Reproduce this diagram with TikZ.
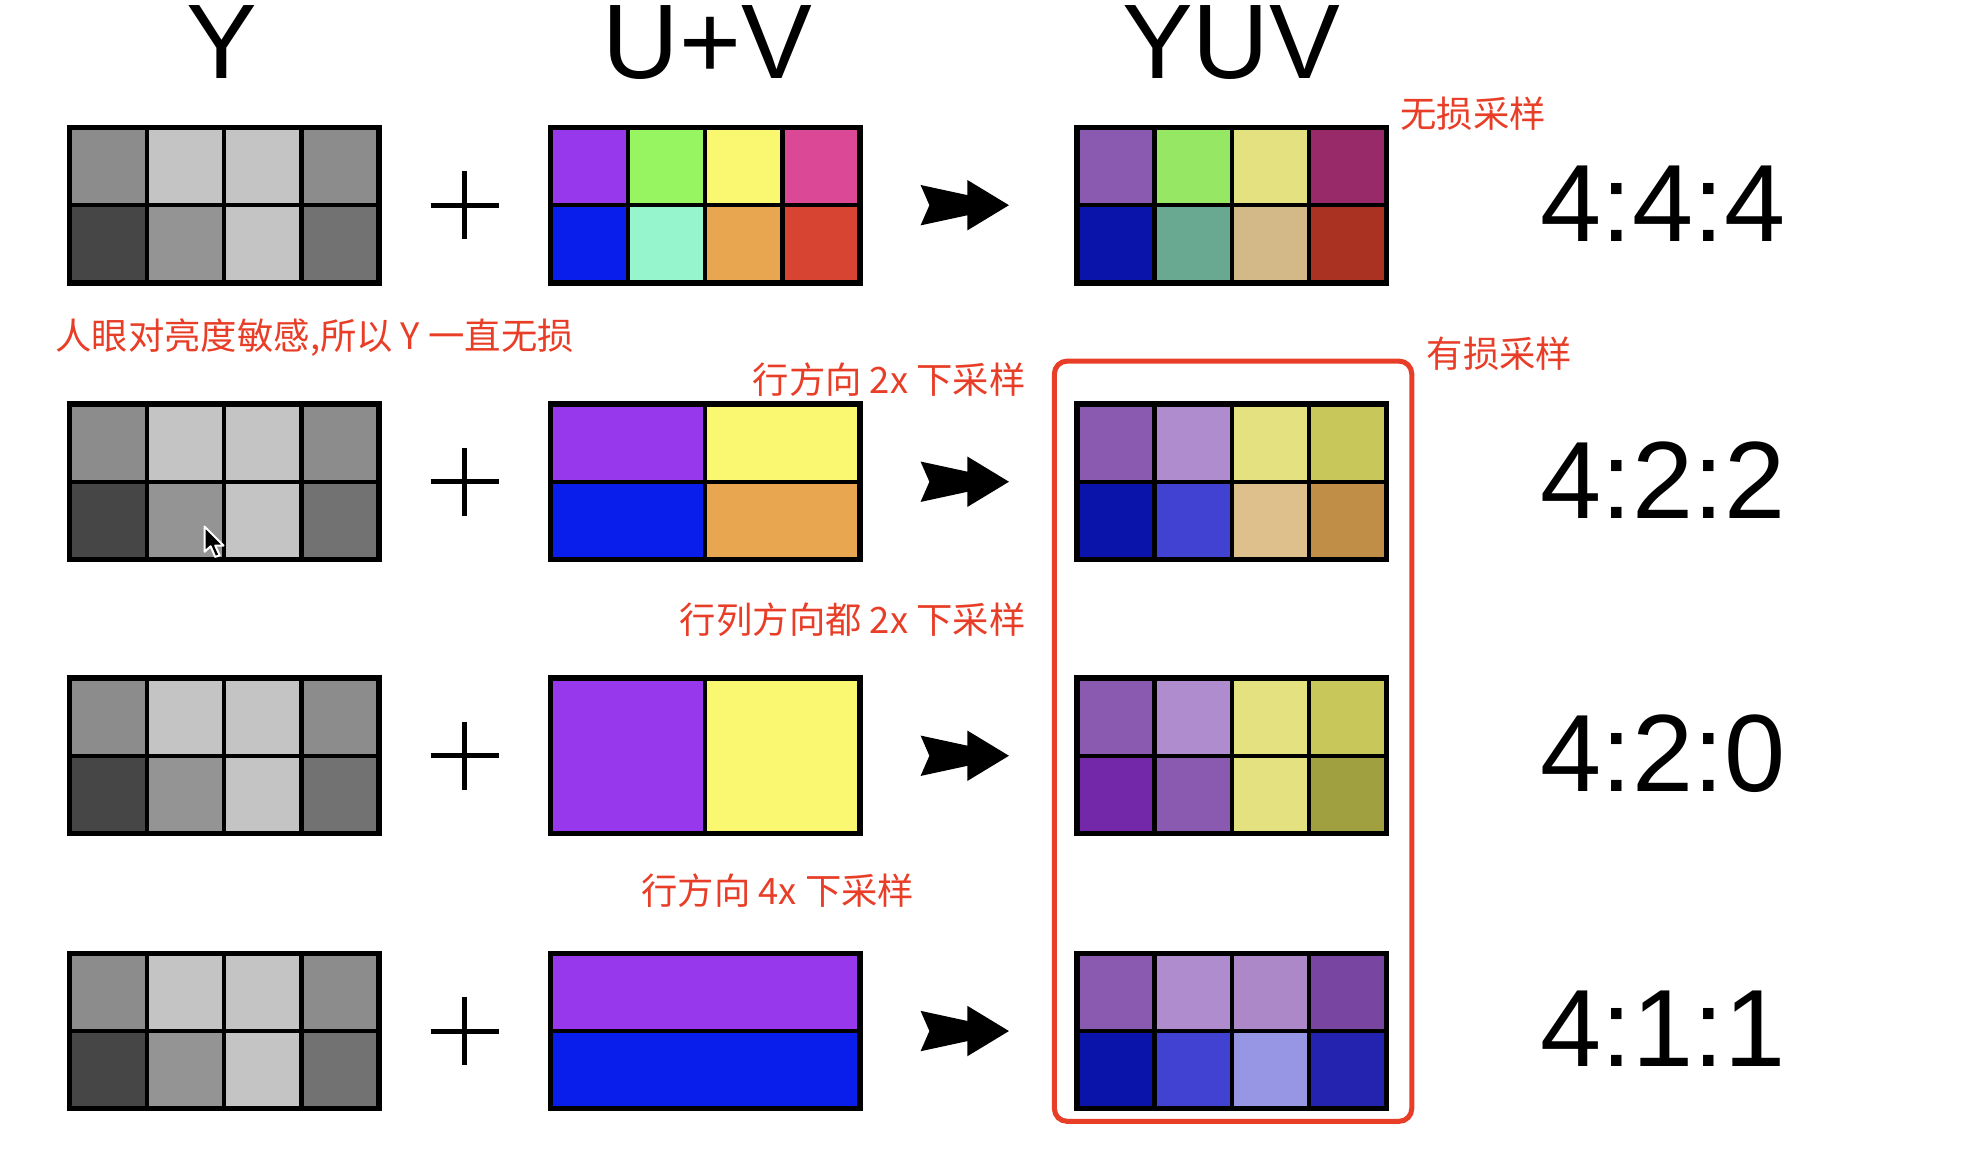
\documentclass[tikz,border=0pt]{standalone}
\usepackage{fontspec}
\setmainfont{Liberation Sans}
\newfontfamily\cjk{Noto Sans CJK SC}
\usepackage{tikz}

% grey levels of the Y samples
\definecolor{ygMid}{RGB}{140,140,140}
\definecolor{ygLight}{RGB}{196,196,196}
\definecolor{ygDark}{RGB}{70,70,70}
\definecolor{ygMidB}{RGB}{148,148,148}
\definecolor{ygDim}{RGB}{114,114,114}
% U+V samples
\definecolor{uvPur}{RGB}{152,56,236}
\definecolor{uvGrn}{RGB}{152,245,98}
\definecolor{uvYel}{RGB}{250,248,112}
\definecolor{uvPnk}{RGB}{218,72,150}
\definecolor{uvBlu}{RGB}{10,30,235}
\definecolor{uvMnt}{RGB}{150,245,205}
\definecolor{uvOrg}{RGB}{232,166,80}
\definecolor{uvRed}{RGB}{216,68,50}
% YUV result
\definecolor{yuvPur}{RGB}{138,90,176}
\definecolor{yuvGrn}{RGB}{150,232,100}
\definecolor{yuvYel}{RGB}{228,226,128}
\definecolor{yuvMag}{RGB}{152,42,105}
\definecolor{yuvNavy}{RGB}{10,20,170}
\definecolor{yuvTeal}{RGB}{105,168,145}
\definecolor{yuvTan}{RGB}{210,185,135}
\definecolor{yuvBrick}{RGB}{170,50,35}
\definecolor{yuvLilac}{RGB}{175,140,205}
\definecolor{yuvOlive}{RGB}{200,200,90}
\definecolor{yuvIndigo}{RGB}{65,65,210}
\definecolor{yuvSand}{RGB}{222,192,140}
\definecolor{yuvOchre}{RGB}{192,142,70}
\definecolor{yuvViolet}{RGB}{115,40,170}
\definecolor{yuvMoss}{RGB}{160,160,65}
\definecolor{yuvLilacB}{RGB}{172,136,200}
\definecolor{yuvPlum}{RGB}{120,70,160}
\definecolor{yuvPeri}{RGB}{150,150,228}
\definecolor{yuvDeep}{RGB}{35,35,175}
\definecolor{noteRed}{RGB}{232,62,40}

\tikzset{
  gridline/.style={line width=1.75pt, black},
  gridframe/.style={line width=2.2pt, black},
  plusbar/.style={line width=2pt, black},
  note/.style={text=noteRed, font=\cjk\fontsize{14.4}{16}\selectfont, inner sep=0.75pt},
  header/.style={font=\fontsize{42}{42}\selectfont, inner sep=0pt},
  ratio/.style={font=\fontsize{43.5}{44}\selectfont, inner sep=0pt},
}

% 4x2 block of samples, top left corner at (#1,#2), colours row by row
\newcommand{\pixgrid}[3]{%
  \foreach \fillc [count=\i from 0] in {#3} {%
    \pgfmathtruncatemacro{\cx}{mod(\i,4)}%
    \pgfmathtruncatemacro{\cy}{div(\i,4)}%
    \fill[\fillc] ({#1+61.25*\cx},{#2+61.5*\cy}) rectangle ++(61.25,61.5);
  }%
  \foreach \k in {1,2,3} \draw[gridline] ({#1+61.25*\k},#2) -- ++(0,123);
  \draw[gridline] (#1,{#2+61.5}) -- ++(245,0);
  \draw[gridframe] (#1,#2) rectangle ++(245,123);
}

\begin{document}
\begin{tikzpicture}[x=0.5pt,y=0.5pt,yscale=-1,xscale=1]
\useasboundingbox (0,0) rectangle (1568,914);

% Text Node
\draw (176,62) node [anchor=base][header] (hdrY) {Y};
% Text Node
\draw (560,62) node [anchor=base][header] (hdrUV) {U+V};
% Text Node
\draw (975,62) node [anchor=base][header] (hdrYUV) {YUV};

%Y planes
\pixgrid{55}{101}{ygMid,ygLight,ygLight,ygMid,ygDark,ygMidB,ygLight,ygDim}
\pixgrid{55}{320}{ygMid,ygLight,ygLight,ygMid,ygDark,ygMidB,ygLight,ygDim}
\pixgrid{55}{537}{ygMid,ygLight,ygLight,ygMid,ygDark,ygMidB,ygLight,ygDim}
\pixgrid{55}{755}{ygMid,ygLight,ygLight,ygMid,ygDark,ygMidB,ygLight,ygDim}

%U+V 4:4:4
\pixgrid{436}{101}{uvPur,uvGrn,uvYel,uvPnk,uvBlu,uvMnt,uvOrg,uvRed}
%U+V 4:2:2
\fill[uvPur] (436,320) rectangle ++(122.5,61.5);
\fill[uvYel] (558.5,320) rectangle ++(122.5,61.5);
\fill[uvBlu] (436,381.5) rectangle ++(122.5,61.5);
\fill[uvOrg] (558.5,381.5) rectangle ++(122.5,61.5);
\draw[gridline] (558.5,320) -- ++(0,123) (436,381.5) -- ++(245,0);
\draw[gridframe] (436,320) rectangle ++(245,123);
%U+V 4:2:0
\fill[uvPur] (436,537) rectangle ++(122.5,123);
\fill[uvYel] (558.5,537) rectangle ++(122.5,123);
\draw[gridline] (558.5,537) -- ++(0,123);
\draw[gridframe] (436,537) rectangle ++(245,123);
%U+V 4:1:1
\fill[uvPur] (436,755) rectangle ++(245,61.5);
\fill[uvBlu] (436,816.5) rectangle ++(245,61.5);
\draw[gridline] (436,816.5) -- ++(245,0);
\draw[gridframe] (436,755) rectangle ++(245,123);

%YUV results
\pixgrid{853}{101}{yuvPur,yuvGrn,yuvYel,yuvMag,yuvNavy,yuvTeal,yuvTan,yuvBrick}
\pixgrid{853}{320}{yuvPur,yuvLilac,yuvYel,yuvOlive,yuvNavy,yuvIndigo,yuvSand,yuvOchre}
\pixgrid{853}{537}{yuvPur,yuvLilac,yuvYel,yuvOlive,yuvViolet,yuvPur,yuvYel,yuvMoss}
\pixgrid{853}{755}{yuvPur,yuvLilac,yuvLilacB,yuvPlum,yuvNavy,yuvIndigo,yuvPeri,yuvDeep}

%Plus signs
\draw[plusbar] (341,162.5) -- (395,162.5) (368,135.5) -- (368,189.5);
\draw[plusbar] (341,381.5) -- (395,381.5) (368,354.5) -- (368,408.5);
\draw[plusbar] (341,598.5) -- (395,598.5) (368,571.5) -- (368,625.5);
\draw[plusbar] (341,816.5) -- (395,816.5) (368,789.5) -- (368,843.5);

%Arrows
\fill (729,146.5) -- (736,162.5) -- (729,178.5) -- (766,170.5) -- (766,182.5) -- (799,162.5) -- (766,142.5) -- (766,154.5) -- cycle;
\fill (729,365.5) -- (736,381.5) -- (729,397.5) -- (766,389.5) -- (766,401.5) -- (799,381.5) -- (766,361.5) -- (766,373.5) -- cycle;
\fill (729,582.5) -- (736,598.5) -- (729,614.5) -- (766,606.5) -- (766,618.5) -- (799,598.5) -- (766,578.5) -- (766,590.5) -- cycle;
\fill (729,800.5) -- (736,816.5) -- (729,832.5) -- (766,824.5) -- (766,836.5) -- (799,816.5) -- (766,796.5) -- (766,808.5) -- cycle;

%Mouse pointer
\draw[fill=black, draw=white, line width=0.8pt, line join=round] (162,417) -- (162,437) -- (166.8,432.6) -- (170.4,441) -- (174,439.8) -- (170.4,432) -- (177,432) -- cycle;

%Rounded Rect: lossy group
\draw[noteRed, line width=2pt, rounded corners=5pt] (835,286) rectangle (1118,888);

% Text Node
\draw (1107,90) node [anchor=west][note] (lossless) {无损采样};
% Text Node
\draw (42,267) node [anchor=west][note] (lumaNote) {人眼对亮度敏感,所以 Y 一直无损};
% Text Node
\draw (814,301) node [anchor=east][note] (note422) {行方向 2x 下采样};
% Text Node
\draw (1128,280) node [anchor=west][note] (lossy) {有损采样};
% Text Node
\draw (814,491) node [anchor=east][note] (note420) {行列方向都 2x 下采样};
% Text Node
\draw (506,705) node [anchor=west][note] (note411) {行方向 4x 下采样};

% Text Node
\draw (1317,161) node [ratio] (r444) {4:4:4};
% Text Node
\draw (1317,380) node [ratio] (r422) {4:2:2};
% Text Node
\draw (1317,597) node [ratio] (r420) {4:2:0};
% Text Node
\draw (1317,815) node [ratio] (r411) {4:1:1};

\end{tikzpicture}
\end{document}
